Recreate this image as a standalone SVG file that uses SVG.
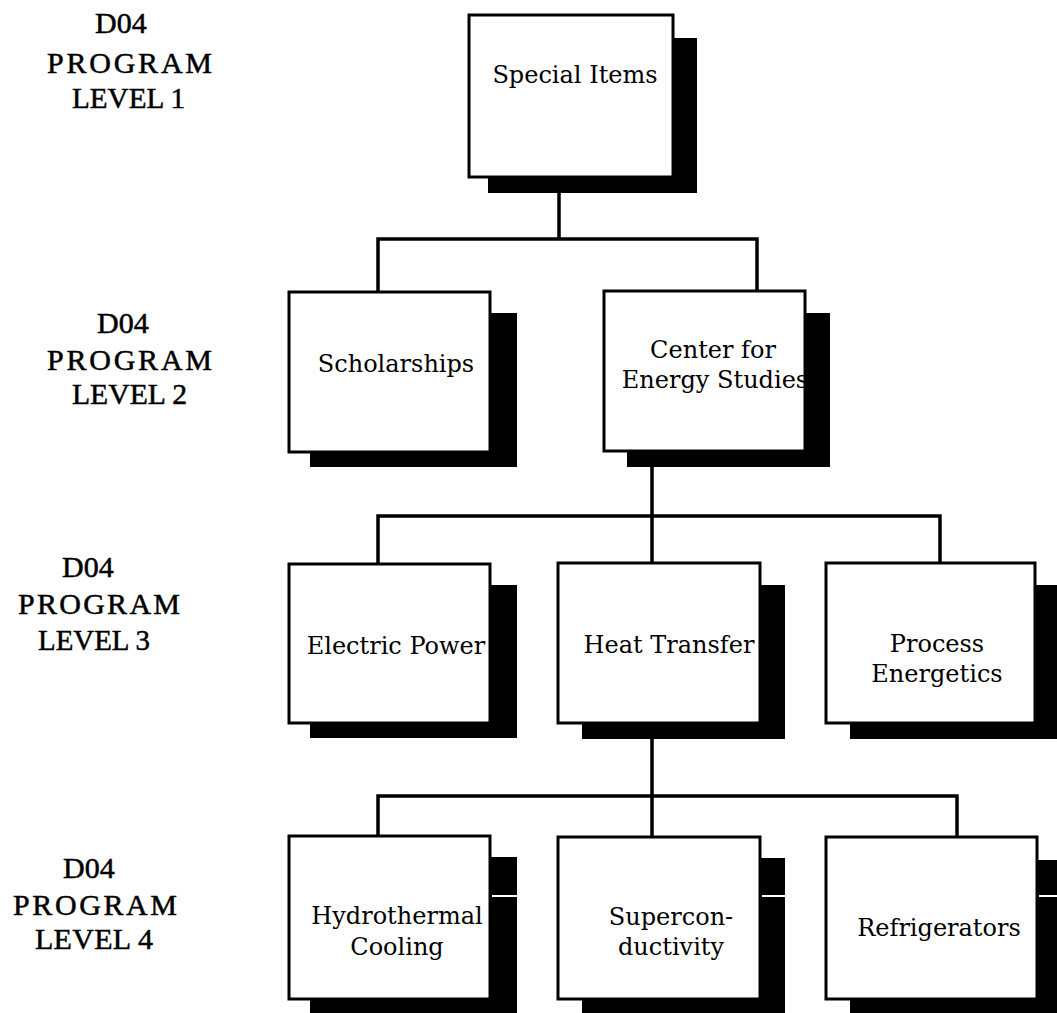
<svg xmlns="http://www.w3.org/2000/svg" width="1057" height="1013" viewBox="0 0 1057 1013">
<style>
.bg{fill:#ffffff}
.shadow{fill:#000000}
.box{fill:#ffffff;stroke:#000000;stroke-width:3}
.lbl{font-family:"DejaVu Serif","Liberation Serif",serif;font-size:24px;fill:#000000;text-anchor:middle}
.lvl{font-family:"Liberation Serif","Times New Roman",serif;font-size:30px;fill:#000000;stroke:#000000;stroke-width:0.5}
.conn{fill:none;stroke:#000000;stroke-width:3.5;stroke-linecap:square}
.gap{stroke:#ffffff;stroke-width:2}
</style>
<rect class="bg" x="0" y="0" width="1057" height="1013"/>
<g id="level-labels">
<g id="label-level1">
<text class="lvl" x="95" y="33">D04</text>
<text class="lvl" x="47" y="73" textLength="165" lengthAdjust="spacing">PROGRAM</text>
<text class="lvl" x="72" y="108" textLength="113" lengthAdjust="spacingAndGlyphs">LEVEL 1</text>
</g>
<g id="label-level2">
<text class="lvl" x="97" y="333">D04</text>
<text class="lvl" x="47" y="370" textLength="165" lengthAdjust="spacing">PROGRAM</text>
<text class="lvl" x="72" y="404" textLength="115" lengthAdjust="spacingAndGlyphs">LEVEL 2</text>
</g>
<g id="label-level3">
<text class="lvl" x="62" y="577">D04</text>
<text class="lvl" x="18" y="614" textLength="162" lengthAdjust="spacing">PROGRAM</text>
<text class="lvl" x="38" y="650" textLength="112" lengthAdjust="spacingAndGlyphs">LEVEL 3</text>
</g>
<g id="label-level4">
<text class="lvl" x="63" y="878">D04</text>
<text class="lvl" x="13" y="915" textLength="164" lengthAdjust="spacing">PROGRAM</text>
<text class="lvl" x="35" y="949" textLength="118" lengthAdjust="spacing">LEVEL 4</text>
</g>
</g>
<g id="connectors">
<path class="conn" d="M559 177 V239 M378 239 H757 M378 239 V292 M757 239 V291"/>
<path class="conn" d="M652 452 V516 M378 516 H940 M378 516 V563 M652 516 V563 M940 516 V563"/>
<path class="conn" d="M652 723 V796 M378 796 H957 M378 796 V837 M652 796 V837 M957 796 V837"/>
</g>
<g id="node-special-items">
<rect class="shadow" x="488" y="38" width="209" height="155"/>
<rect class="box" x="469" y="15" width="204" height="162"/>
<text class="lbl" x="575" y="83">Special Items</text>
</g>
<g id="node-scholarships">
<rect class="shadow" x="310" y="313" width="207" height="154"/>
<rect class="box" x="289" y="292" width="201" height="160"/>
<text class="lbl" x="396" y="372">Scholarships</text>
</g>
<g id="node-center-energy">
<rect class="shadow" x="627" y="313" width="203" height="154"/>
<rect class="box" x="604" y="291" width="201" height="160"/>
<text class="lbl" x="713" y="358">Center for</text>
<text class="lbl" x="715" y="388">Energy Studies</text>
</g>
<g id="node-electric-power">
<rect class="shadow" x="310" y="585" width="207" height="153"/>
<rect class="box" x="289" y="564" width="201" height="159"/>
<text class="lbl" x="396" y="654">Electric Power</text>
</g>
<g id="node-heat-transfer">
<rect class="shadow" x="582" y="585" width="203" height="154"/>
<rect class="box" x="558" y="563" width="202" height="160"/>
<text class="lbl" x="669" y="653">Heat Transfer</text>
</g>
<g id="node-process-energetics">
<rect class="shadow" x="850" y="585" width="212" height="154"/>
<rect class="box" x="826" y="563" width="209" height="160"/>
<text class="lbl" x="937" y="652">Process</text>
<text class="lbl" x="937" y="682">Energetics</text>
</g>
<g id="node-hydrothermal">
<rect class="shadow" x="310" y="857" width="207" height="160"/>
<rect class="box" x="289" y="836" width="201" height="163"/>
<line class="gap" x1="492" y1="896" x2="518" y2="896"/>
<text class="lbl" x="397" y="924">Hydrothermal</text>
<text class="lbl" x="397" y="955">Cooling</text>
</g>
<g id="node-superconductivity">
<rect class="shadow" x="582" y="858" width="203" height="160"/>
<rect class="box" x="558" y="837" width="202" height="162"/>
<line class="gap" x1="762" y1="896" x2="786" y2="896"/>
<text class="lbl" x="671" y="925">Supercon-</text>
<text class="lbl" x="671" y="955">ductivity</text>
</g>
<g id="node-refrigerators">
<rect class="shadow" x="850" y="860" width="212" height="160"/>
<rect class="box" x="826" y="837" width="211" height="162"/>
<line class="gap" x1="1039" y1="896" x2="1057" y2="896"/>
<text class="lbl" x="939" y="936">Refrigerators</text>
</g>
</svg>
